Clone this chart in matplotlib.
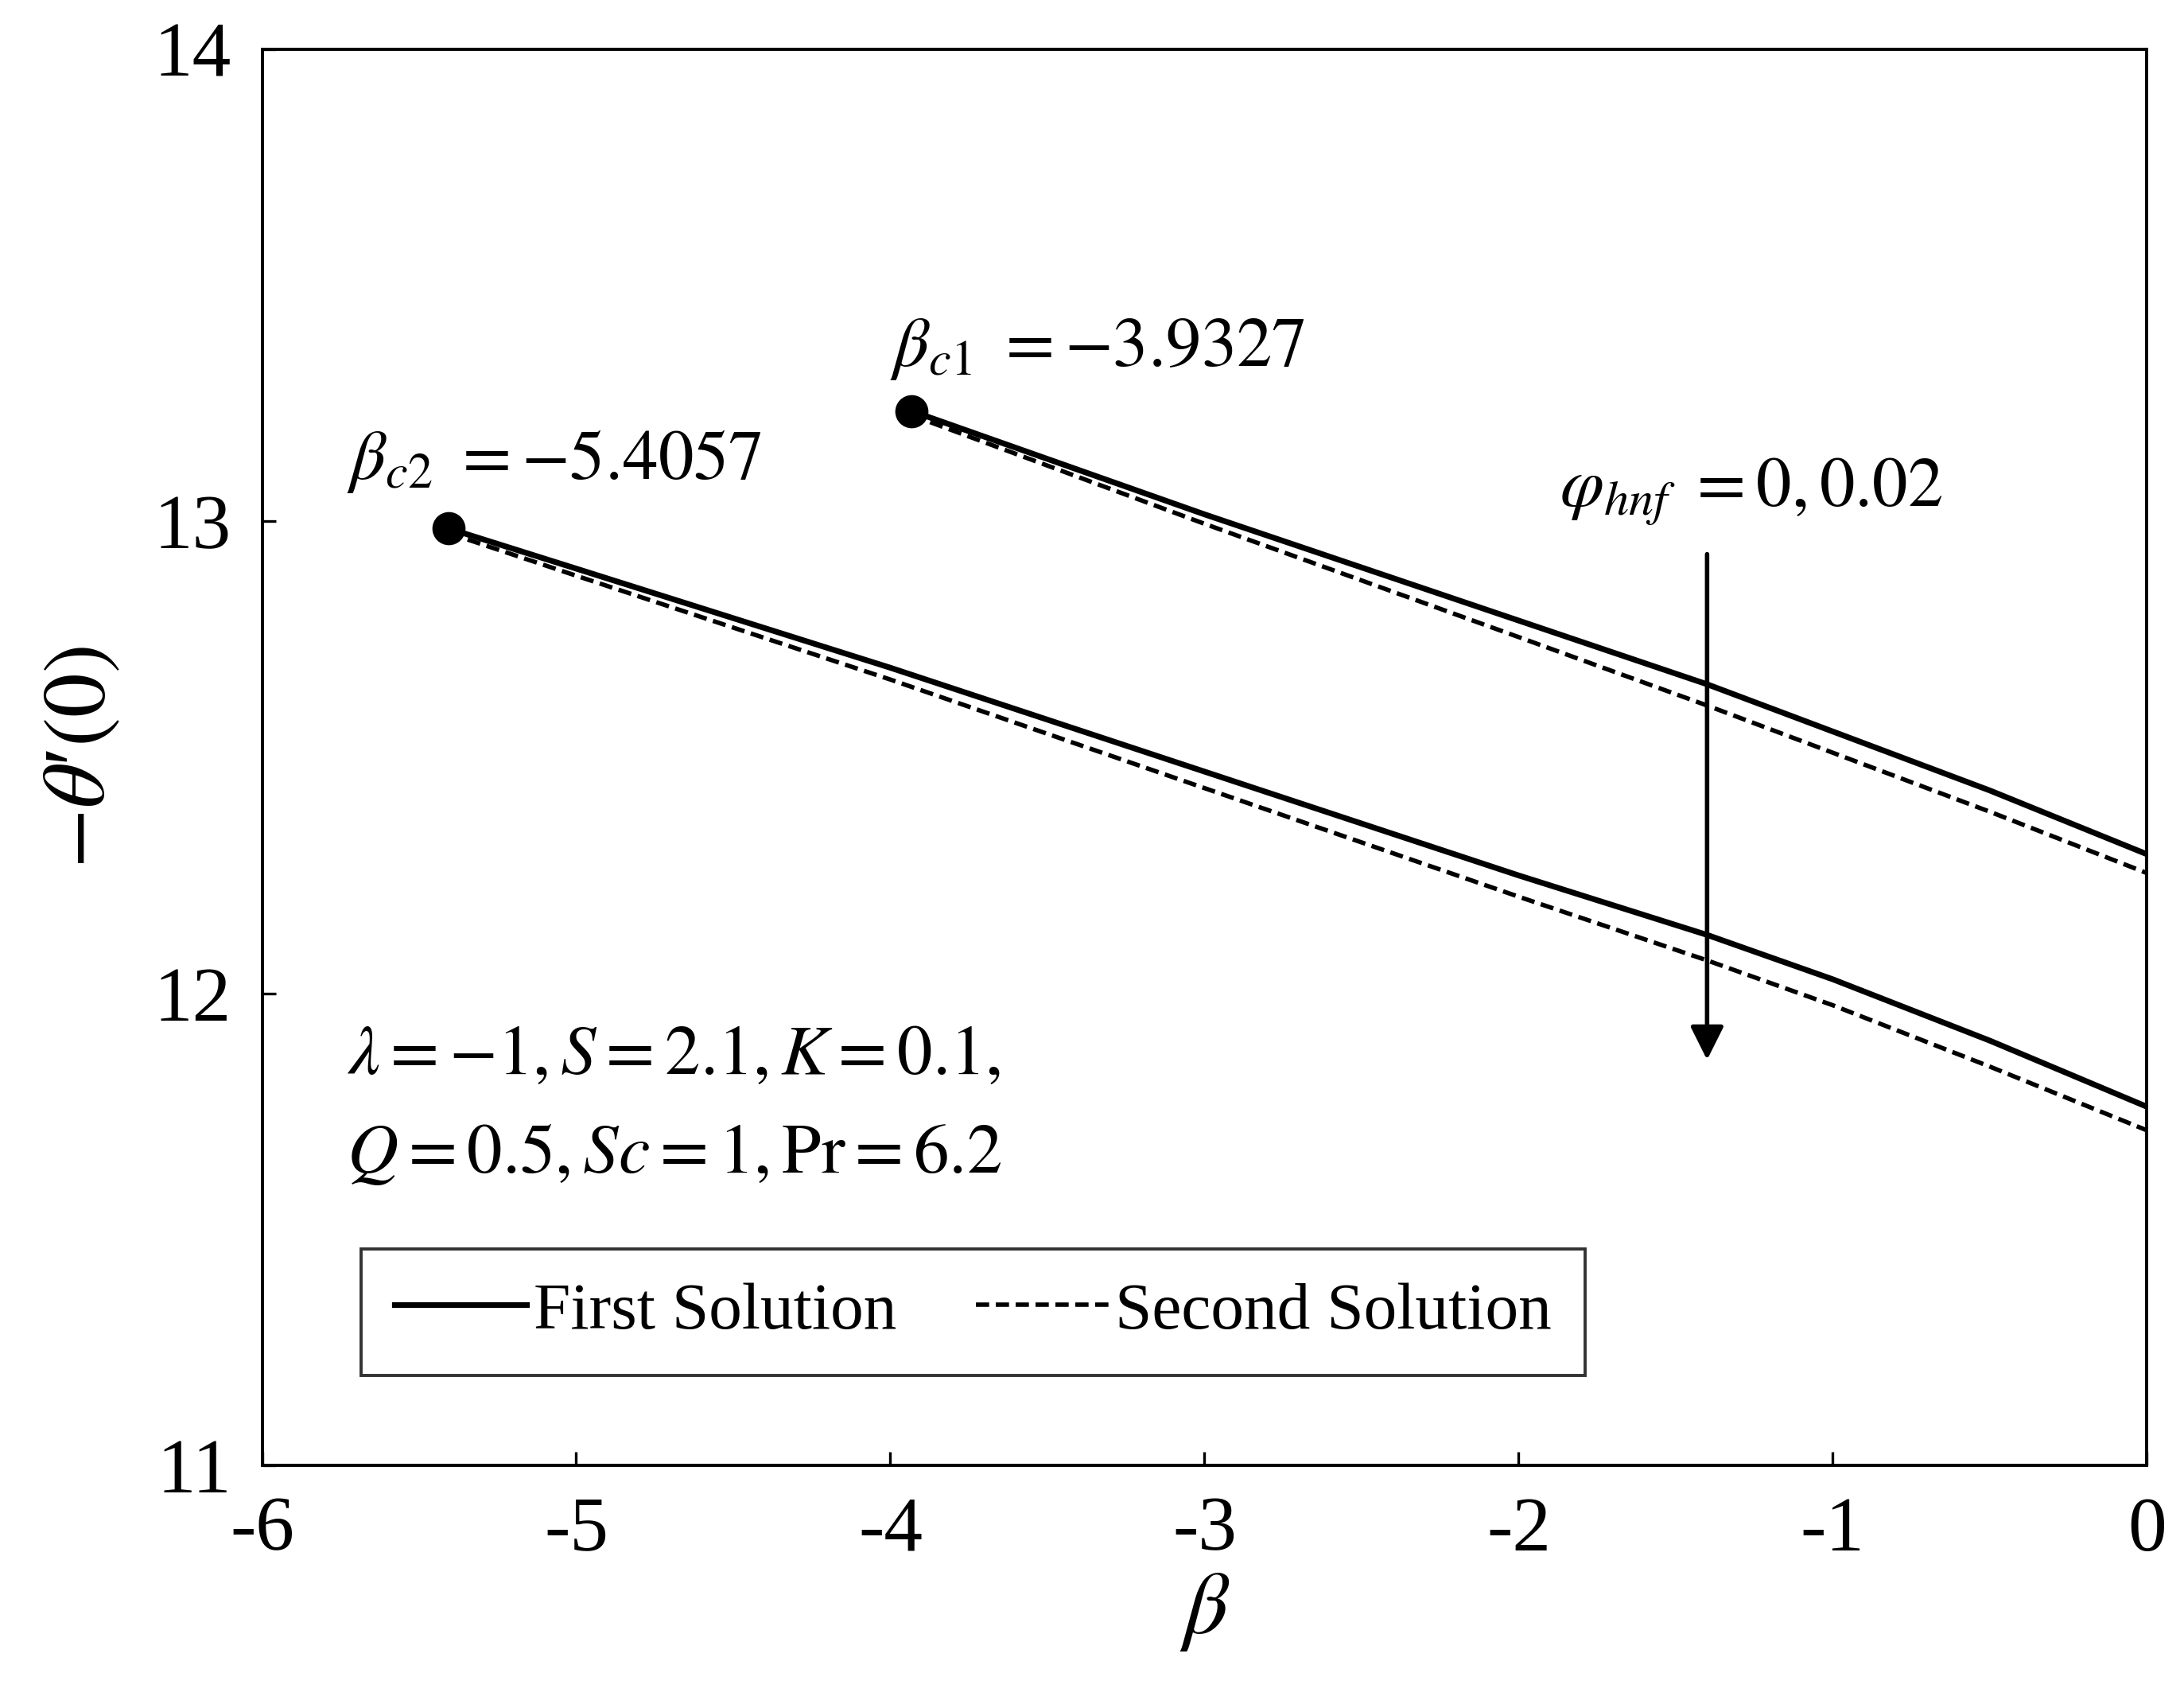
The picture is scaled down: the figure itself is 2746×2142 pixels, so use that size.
import matplotlib.pyplot as plt

plt.rcParams['font.family'] = ['Liberation Serif', 'DejaVu Serif']
plt.rcParams['mathtext.fontset'] = 'stix'

# upper pair (phi_hnf = 0)
beta_up = [-3.9327, -3, -2, -1.4, -1, -0.5, 0]
first_up = [13.234, 13.015, 12.79, 12.655, 12.555, 12.43, 12.295]
second_up = [13.225, 12.995, 12.755, 12.61, 12.51, 12.385, 12.255]

# lower pair (phi_hnf = 0.02)
beta_lo = [-5.4057, -5, -4, -3, -2, -1.4, -1, -0.5, 0]
first_lo = [12.985, 12.9, 12.69, 12.47, 12.25, 12.124, 12.03, 11.90, 11.76]
second_lo = [12.975, 12.885, 12.665, 12.435, 12.205, 12.07, 11.975, 11.845, 11.71]

fig = plt.figure(figsize=(13.73, 10.71), dpi=200)
ax = fig.add_axes([0.12, 0.14, 0.863, 0.831])

ax.plot(beta_up, first_up, 'k-', lw=2.6, label='First Solution')
ax.plot(beta_up, second_up, 'k--', lw=2.0, dashes=(3, 1.5), label='Second Solution')
ax.plot(beta_lo, first_lo, 'k-', lw=2.6)
ax.plot(beta_lo, second_lo, 'k--', lw=2.0, dashes=(3, 1.5))
ax.plot([beta_up[0], beta_lo[0]], [first_up[0], first_lo[0]], 'ko', ms=14, ls='none')

ax.set_xlim(-6, 0)
ax.set_ylim(11, 14)
ax.set_xticks(range(-6, 1))
ax.set_xticklabels([str(v) for v in range(-6, 1)])
ax.set_yticks([11, 12, 13, 14])
ax.tick_params(labelsize=35, direction='in', length=6, width=1.2, pad=14)
for s in ax.spines.values():
    s.set_linewidth(1.4)
ax.set_xlabel(r'$\beta$', fontsize=40, labelpad=2)
ax.set_ylabel('$-\\theta$\u2032$(0)$', fontsize=40, labelpad=14)

ax.text(-5.85, 13.33, r'$\beta_{c1}\ =-3.9327$', fontsize=32)
ax.text(-5.7, 13.09, r'$\beta_{c2}\ =-5.4057$', fontsize=32)
ax.text(-1.87, 13.03, r'$\varphi_{hnf}\ =0,0.02$', fontsize=32)
ax.texts[0].set_x(-4.0)
ax.texts[1].set_x(-5.73)
ax.annotate('', xy=(-1.4, 11.85), xytext=(-1.4, 12.94),
            arrowprops=dict(arrowstyle='-|>', color='k', lw=2.0, mutation_scale=32))
ax.text(-5.73, 11.83, r'$\lambda=-1,S=2.1,K=0.1,$', fontsize=32)
ax.text(-5.73, 11.62, r'$Q=0.5,Sc=1,\mathrm{Pr}=6.2$', fontsize=32)

leg = ax.legend(loc='lower left', bbox_to_anchor=(0.035, 0.04), ncol=2, fontsize=30,
                frameon=True, fancybox=False, edgecolor='k', handlelength=2.0,
                handletextpad=0.1, columnspacing=1.2, borderpad=0.5)
leg.get_frame().set_linewidth(1.4)

fig.savefig('out.png', dpi=200)
